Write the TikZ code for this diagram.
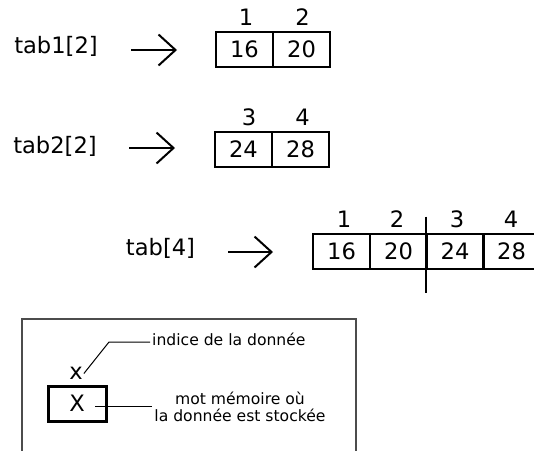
\documentclass[tikz,border=0pt]{standalone}
\usepackage{fontspec}
\setmainfont{DejaVu Sans}
\usetikzlibrary{arrows.meta}
\tikzset{
  case/.style={draw, line width=2pt, minimum width=57pt, minimum height=35pt, inner sep=0pt, font=\fontsize{22.6}{27}\selectfont},
  indice/.style={inner sep=0pt, font=\fontsize{22.6}{27}\selectfont},
  nomtab/.style={inner sep=0pt, font=\fontsize{22.6}{27}\selectfont},
  fleche/.style={line width=2pt, -{Straight Barb[length=17pt,width=31pt,line width=2pt]}},
  legende/.style={align=center, inner sep=2pt, font=\fontsize{15.6}{17}\selectfont},
  trait/.style={line width=1pt}
}

\begin{document}
\begin{tikzpicture}[x=1pt, y=-1pt]
			%%%%% START %%%%%
			\useasboundingbox (0, 0) rectangle (534, 450);
			\clip (0, 0) rectangle (534, 450);
			
			% tab1[2]
			\node[nomtab] (tab1) at (56, 46.5) {tab1[2]};
			\coordinate (f1a) at (131, 50);
			\coordinate (f1b) at (177, 50);
			\draw[fleche] (f1a) -- (f1b);
			\node[case] (c11) at (244.5, 49.5) {16};
			\node[case] (c12) at (301.5, 49.5) {20};
			\node[indice] (i11) at (246, 17.5) {1};
			\node[indice] (i12) at (302.5, 17.5) {2};
			
			% tab2[2]
			\node[nomtab] (tab2) at (55, 146) {tab2[2]};
			\coordinate (f2a) at (129, 148);
			\coordinate (f2b) at (175, 148);
			\draw[fleche] (f2a) -- (f2b);
			\node[case] (c21) at (243.5, 149.5) {24};
			\node[case] (c22) at (300.5, 149.5) {28};
			\node[indice] (i21) at (249, 117.5) {3};
			\node[indice] (i22) at (302.5, 117.5) {4};
			
			% tab[4]
			\node[nomtab] (tab3) at (160.5, 248.5) {tab[4]};
			\coordinate (f3a) at (228, 252);
			\coordinate (f3b) at (273, 252);
			\draw[fleche] (f3a) -- (f3b);
			\node[case] (c31) at (341.5, 251) {16};
			\node[case] (c32) at (398.5, 251) {20};
			\node[case] (c33) at (455, 251) {24};
			\node[case] (c34) at (511.5, 251) {28};
			\node[indice] (i31) at (344, 219.5) {1};
			\node[indice] (i32) at (397, 219.5) {2};
			\node[indice] (i33) at (457, 219.5) {3};
			\node[indice] (i34) at (511, 219.5) {4};
			\draw[line width=2pt] ([yshift=16pt]c33.north west) -- ([yshift=-23pt]c33.south west);
			
			% legende
			\draw[line width=1.5pt, color=black!70] (22, 465) -- (22, 319) -- (356, 319) -- (356, 465);
			\node[indice, inner sep=1pt] (lx) at (76, 373.5) {x};
			\node[case, line width=3pt, minimum width=58pt] (lX) at (77, 403.5) {X};
			\node[legende, anchor=west] (ind) at (150, 339) {indice de la donnée};
			\node[legende] (mem) at (240, 407) {mot mémoire où\\la donnée est stockée};
			\coordinate (coude) at (109, 342);
			\coordinate (pX) at (95, 406);
			\draw[trait] (lx.east) -- (coude) -- (coude -| ind.west);
			\draw[trait] (pX) -- (pX -| mem.west);
			
			%%%%% END %%%%%
\end{tikzpicture}
\end{document}
